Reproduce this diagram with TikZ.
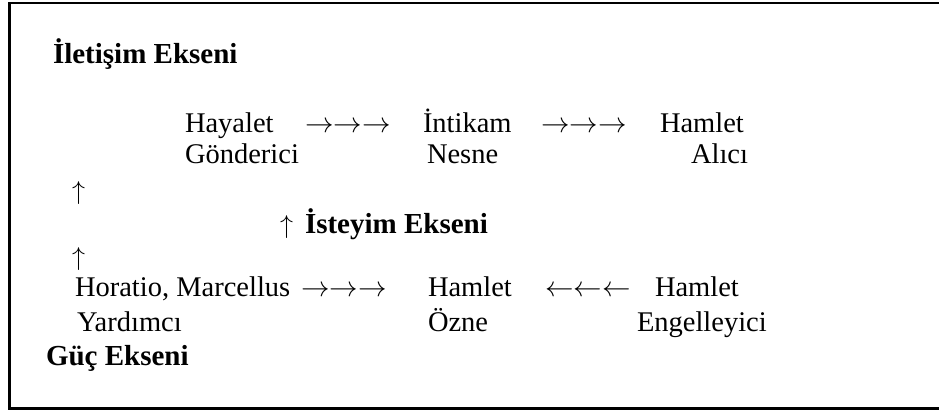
\RequirePackage{fix-cm}
\documentclass[tikz,border=0pt]{standalone}
\usepackage{fontspec}
\setmainfont{Liberation Serif}
\newcommand{\arrs}[1]{\fontsize{28.5}{34}\selectfont$#1#1#1$}
\newcommand{\uparr}{\fontsize{26}{31}\selectfont$\uparrow$}
\begin{document}
\begin{tikzpicture}[x=1pt,y=-1pt,
  every node/.style={inner sep=0pt,outer sep=0pt,anchor=base west,
    font=\fontsize{28.5}{34}\selectfont},
  head/.style={font=\fontsize{29}{34}\selectfont\bfseries},
  frame/.style={line width=2.5pt}]
\useasboundingbox (0,0) rectangle (939,410);
\coordinate (ftr) at (945,3);
\coordinate (ftl) at (9.5,3);
\coordinate (fbl) at (9.5,408.5);
\coordinate (fbr) at (945,408.5);
\draw[frame] (ftr) -- (ftl) -- (fbl) -- (fbr);
% headings
\node[head] (ilet) at (53,63) {İletişim Ekseni};
% row 1
\node (hay) at (185,132) {Hayalet};
\node (ar1) at (305,132) {\arrs{\rightarrow}};
\node (int) at (423,132) {İntikam};
\node (ar2) at (541,132) {\arrs{\rightarrow}};
\node (ham1) at (660,132) {Hamlet};
\node (gon) at (185,163) {Gönderici};
\node (nes) at (427,163) {Nesne};
\node[anchor=base east] (alc) at (748,163) {Alıcı};
% middle
\node (up1) at (72,199) {\uparr};
\node (up2) at (280,233) {\uparr};
\node[head] (ist) at (305,233) {İsteyim Ekseni};
\node (up3) at (72,265) {\uparr};
% row 3
\node (hor) at (75,296) {Horatio, Marcellus};
\node (ar3) at (301,296) {\arrs{\rightarrow}};
\node (ham2) at (428,296) {Hamlet};
\node (ar4) at (545,296) {\arrs{\leftarrow}};
\node (ham3) at (655,296) {Hamlet};
\node (yar) at (77,331) {Yardımcı};
\node (ozn) at (428,331) {Özne};
\node (eng) at (637,331) {Engelleyici};
\node[head] (guc) at (46,365) {Güç Ekseni};
\end{tikzpicture}
\end{document}
